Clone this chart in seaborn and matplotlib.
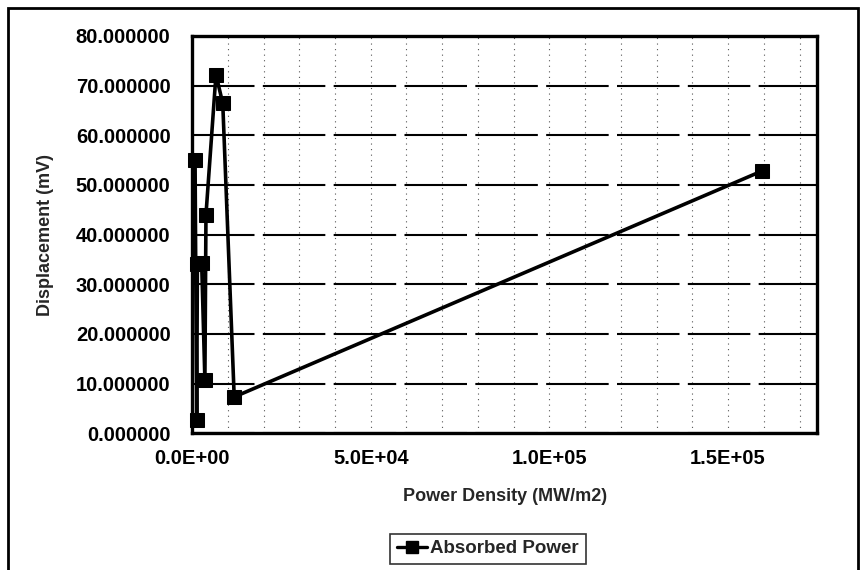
import matplotlib
matplotlib.use("Agg")
import matplotlib.pyplot as plt
from matplotlib.patches import Rectangle
from matplotlib.ticker import FuncFormatter, MultipleLocator
import pandas as pd
import seaborn as sns

# values
power_density = [850, 1300, 1500, 2700, 3600, 3900, 6700, 8600, 11800, 159500]
displacement = [55.0, 2.6, 34.0, 34.2, 10.7, 44.0, 72.2, 66.4, 7.3, 52.8]
series_name = "Absorbed Power"


def main():
    df = pd.DataFrame({"Power Density (MW/m2)": power_density,
                       "Displacement (mV)": displacement,
                       "series": series_name})

    sns.set_style("white")
    plt.rcParams["font.family"] = ["Liberation Sans", "DejaVu Sans"]
    plt.rcParams["font.weight"] = "bold"

    fig = plt.figure(figsize=(8.65, 5.70), dpi=100)
    ax = fig.add_axes([0.222, 0.240, 0.723, 0.697])

    sns.lineplot(data=df, x="Power Density (MW/m2)", y="Displacement (mV)",
                 hue="series", palette=["black"], sort=False, estimator=None,
                 marker="s", markersize=10, markeredgecolor="black",
                 linewidth=2.6, ax=ax, legend=False, clip_on=False)

    ax.set_xlim(0, 175000)
    ax.set_ylim(0, 80)
    ax.xaxis.set_major_locator(MultipleLocator(50000))
    ax.xaxis.set_minor_locator(MultipleLocator(10000))
    ax.yaxis.set_major_locator(MultipleLocator(10))
    ax.xaxis.set_major_formatter(FuncFormatter(lambda v, p: f"{v:.1E}"))
    ax.yaxis.set_major_formatter(FuncFormatter(lambda v, p: f"{v:.6f}"))

    # horizontal gridlines dark, vertical ones faint dotted
    ax.yaxis.grid(True, color="black", linewidth=1.5, linestyle=(0, (30, 4)))
    ax.xaxis.grid(True, which="both", color="#555555", linewidth=0.8,
                  linestyle=(0, (1, 4)))
    ax.set_axisbelow(True)

    for s in ax.spines.values():
        s.set_visible(True)
        s.set_color("black")
        s.set_linewidth(2.4)

    ax.tick_params(axis="y", which="major", direction="inout", length=7,
                   width=1.2, colors="black", labelsize=14.5, pad=12)
    ax.tick_params(axis="x", which="major", direction="inout", length=7,
                   width=1.2, colors="black", labelsize=14.5, pad=8)
    ax.tick_params(axis="x", which="minor", direction="inout", length=4,
                   width=0.8, colors="black")
    for lab in ax.get_xticklabels() + ax.get_yticklabels():
        lab.set_fontweight("bold")

    ax.set_xlabel("Power Density (MW/m2)", fontsize=13, fontweight="bold",
                  labelpad=14)
    ax.set_ylabel("Displacement (mV)", fontsize=13, fontweight="bold",
                  labelpad=16)

    handle = plt.Line2D([], [], color="black", linewidth=2.4, marker="s",
                        markersize=9)
    leg = fig.legend([handle], [series_name], loc="center",
                     bbox_to_anchor=(0.564, 0.037), frameon=True,
                     fancybox=False, handlelength=1.6, handletextpad=0.2,
                     borderpad=0.35, prop={"size": 13.5, "weight": "bold"})
    leg.get_frame().set_edgecolor("black")
    leg.get_frame().set_linewidth(1.2)

    # outer chart frame
    fig.patches.append(Rectangle((0.009, -0.02), 0.983, 1.006,
                                 transform=fig.transFigure, fill=False,
                                 edgecolor="black", linewidth=2.0))

    plt.savefig("out.png", dpi=100)


if __name__ == '__main__':
    main()
